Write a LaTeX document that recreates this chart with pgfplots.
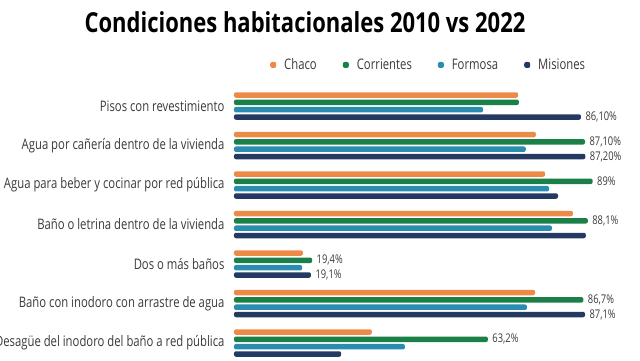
\documentclass[border=0pt]{standalone}
\usepackage{pgfplots}
\pgfplotsset{compat=1.18}
\usepackage{fontspec}
\setmainfont{Open Sans}
\newfontfamily\titlefont{Open Sans}[FakeStretch=0.8]
\newfontfamily\labfont{Open Sans}[FakeStretch=0.78]
\definecolor{chaco}{HTML}{EE8A48}
\definecolor{corr}{HTML}{1B8048}
\definecolor{form}{HTML}{2A8DB0}
\definecolor{mis}{HTML}{243A63}
\definecolor{lab}{HTML}{3A3A3A}
\begin{document}
\begin{tikzpicture}[x=1pt,y=1pt]
\useasboundingbox (0,0) rectangle (640,-360);
\clip (0,0) rectangle (640,-360);
\node[font=\titlefont\bfseries\fontsize{27.5}{30}\selectfont, anchor=center] at (305,-22) {Condiciones habitacionales 2010 vs 2022};
\begin{axis}[
  at={(234pt,-106pt)}, anchor=origin,
  x=4.03pt, y=39.5pt, y dir=reverse,
  xmin=0, xmax=100, ymin=-0.45, ymax=6.45,
  xbar, bar width=5.5pt,
  axis line style={draw=none},
  major tick length=0pt,
  xtick=\empty,
  ytick={0,...,6},
  yticklabels={Pisos con revestimiento, Agua por cañería dentro de la vivienda, Agua para beber y cocinar por red pública, Baño o letrina dentro de la vivienda, Dos o más baños, Baño con inodoro con arrastre de agua, Desagüe del inodoro del baño a red pública},
  yticklabel style={font=\labfont\fontsize{14.5}{15}\selectfont, text=lab, anchor=east, xshift=-6pt},
  clip=false,
  legend columns=4,
  legend style={draw=none, fill=none, at={(axis cs:8.2,-1.04)}, anchor=west, font=\labfont\fontsize{14.5}{15}\selectfont, text=lab,
    /tikz/every odd column/.append style={column sep=6pt},
    /tikz/every even column/.append style={column sep=24pt}},
  legend image code/.code={\fill[#1,draw=none] (0pt,-3pt) rectangle (6pt,3pt);},
  nodes near coords style={font=\labfont\fontsize{12}{13}\selectfont, text=lab, anchor=west, xshift=1pt},
  every axis plot/.append style={draw=none, rounded corners=2pt},
]
\addplot[fill=chaco, bar shift=11pt] coordinates {(70.5,0) (74.9,1) (77.2,2) (84.1,3) (17.1,4) (74.7,5) (34.2,6)};
\addplot[fill=corr, bar shift=3.7pt,
  nodes near coords={\ifcase\coordindex\relax\or87,10\%\or89\%\or88,1\%\or19,4\%\or86,7\%\or63,2\%\fi},
  ] coordinates {(70.7,0) (87.1,1) (89.0,2) (87.8,3) (19.4,4) (86.7,5) (63.0,6)};
\addplot[fill=form, bar shift=-3.7pt] coordinates {(61.8,0) (72.4,1) (78.2,2) (78.9,3) (16.9,4) (72.7,5) (42.4,6)};
\addplot[fill=mis, bar shift=-11pt,
  nodes near coords={\ifcase\coordindex\relax86,10\%\or87,20\%\or\or\or19,1\%\or87,1\%\or\fi},
  ] coordinates {(86.1,0) (87.2,1) (80.4,2) (87.3,3) (19.1,4) (87.1,5) (26.6,6)};
\legend{Chaco, Corrientes, Formosa, Misiones}
\end{axis}
\end{tikzpicture}
\end{document}
